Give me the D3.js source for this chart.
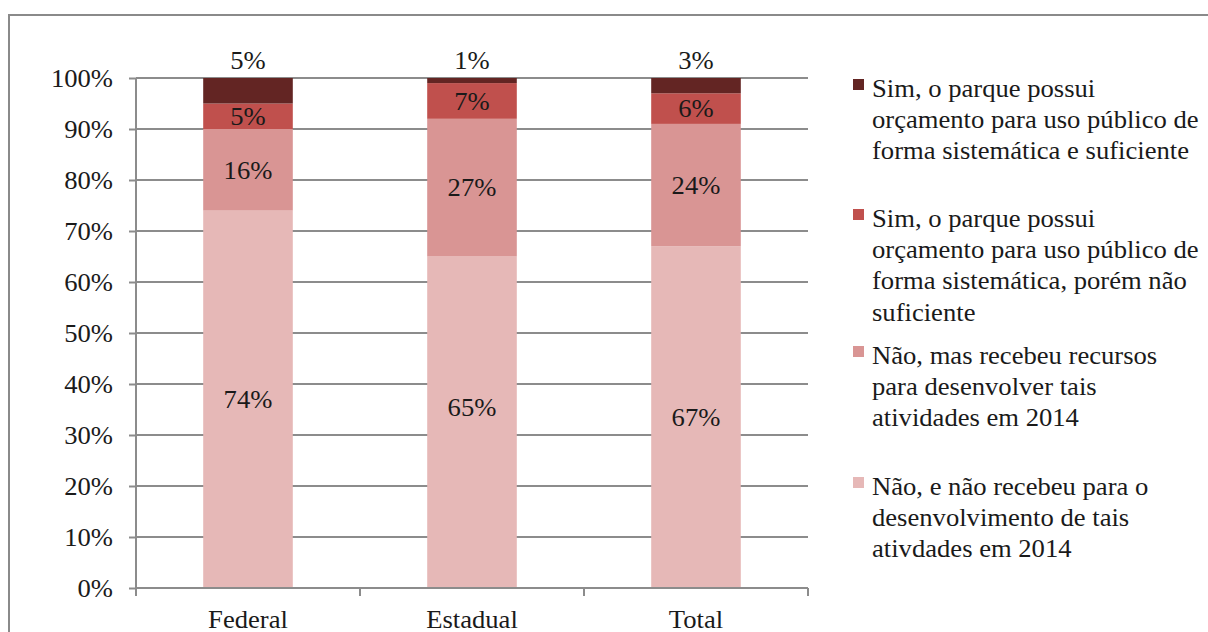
<!DOCTYPE html>
<html>
<head>
<meta charset="utf-8">
<script src="https://cdn.jsdelivr.net/npm/d3@7"></script>
<style>
  body { margin: 0; background: #fff; }
  svg { display: block; }
  text { font-family: "Liberation Serif", "Times New Roman", serif; fill: #1a1a1a; }
</style>
</head>
<body>
<svg width="1208" height="632"></svg>
<script>
// categories and series (percent)
var categories = ["Federal", "Estadual", "Total"];
var seriesKeys = ["naoNaoRecebeu", "naoRecebeu", "simNaoSuficiente", "simSuficiente"];
var naoNaoRecebeu = [74, 65, 67];
var naoRecebeu = [16, 27, 24];
var simNaoSuficiente = [5, 7, 6];
var simSuficiente = [5, 1, 3];
var yTicks = [0, 10, 20, 30, 40, 50, 60, 70, 80, 90, 100];

var seriesColors = ["#e6b8b7", "#d99594", "#c0504d", "#632523"];

// legend, top to bottom (reverse of stack order)
var legendLabels = [
    ["Sim, o parque possui", "orçamento para uso público de", "forma sistemática e suficiente"],
    ["Sim, o parque possui", "orçamento para uso público de", "forma sistemática, porém não", "suficiente"],
    ["Não, mas recebeu recursos", "para desenvolver tais", "atividades em 2014"],
    ["Não, e não recebeu para o", "desenvolvimento de tais", "ativdades em 2014"]
];
var legendColors = ["#632523", "#c0504d", "#d99594", "#e6b8b7"];

var FS = "25px";

var svg = d3.select("svg");

// outer chart frame (runs off the right and bottom of the picture)
svg.append("path")
    .attr("d", "M9,640 L9,15 L1220,15")
    .attr("fill", "none")
    .attr("stroke", "#8a8a8a")
    .attr("stroke-width", 2);

var plotLeft = 136, plotRight = 808, plotTop = 78, plotBottom = 588;

var x = d3.scaleBand().domain(categories).range([plotLeft, plotRight]).padding(0);
var y = d3.scaleLinear().domain([0, 100]).range([plotBottom, plotTop]);

// table for the stack
var rows = categories.map(function (c, i) {
    return {
        cat: c,
        naoNaoRecebeu: naoNaoRecebeu[i],
        naoRecebeu: naoRecebeu[i],
        simNaoSuficiente: simNaoSuficiente[i],
        simSuficiente: simSuficiente[i]
    };
});
var stacked = d3.stack().keys(seriesKeys)(rows);

// gridlines
svg.append("g")
    .selectAll("line")
    .data(yTicks.filter(function (d) { return d > 0; }))
    .enter().append("line")
    .attr("x1", plotLeft).attr("x2", plotRight)
    .attr("y1", function (d) { return y(d); })
    .attr("y2", function (d) { return y(d); })
    .attr("stroke", "#8c8c8c")
    .attr("stroke-width", 2);

// bars
var barW = x.bandwidth() * 0.4;
var layer = svg.append("g").selectAll("g")
    .data(stacked)
    .enter().append("g")
    .attr("fill", function (d, i) { return seriesColors[i]; });

layer.selectAll("rect")
    .data(function (d) { return d; })
    .enter().append("rect")
    .attr("x", function (d) { return x(d.data.cat) + (x.bandwidth() - barW) / 2; })
    .attr("width", barW)
    .attr("y", function (d) { return y(d[1]); })
    .attr("height", function (d) { return y(d[0]) - y(d[1]); });

// data labels (the Estadual 65% label sits a bit higher in the original)
stacked.forEach(function (s, si) {
    svg.append("g").selectAll("text")
        .data(s)
        .enter().append("text")
        .attr("x", function (d) { return x(d.data.cat) + x.bandwidth() / 2; })
        .attr("y", function (d) {
            if (si === seriesKeys.length - 1) return y(100) - 18;
            var mid = (y(d[0]) + y(d[1])) / 2;
            if (si === 0 && d.data.cat === "Estadual") mid -= 15;
            return mid;
        })
        .attr("dy", "0.35em")
        .attr("text-anchor", "middle")
        .style("font-size", FS)
        .text(function (d) { return (d[1] - d[0]) + "%"; });
});

// y axis
var yAxis = svg.append("g")
    .attr("transform", "translate(" + plotLeft + ",0)")
    .call(d3.axisLeft(y).tickValues(yTicks).tickSize(7).tickPadding(16)
        .tickFormat(function (d) { return d + "%"; }));
yAxis.select(".domain").attr("stroke", "#8c8c8c").attr("stroke-width", 2)
    .attr("d", "M0," + (plotBottom + 8) + "V" + plotTop);
yAxis.selectAll(".tick line").attr("stroke", "#8c8c8c").attr("stroke-width", 2);
yAxis.selectAll(".tick text").style("font-size", FS).attr("fill", "#1a1a1a")
    .style("font-family", "Liberation Serif");

// x axis
var xAxis = svg.append("g")
    .attr("transform", "translate(0," + plotBottom + ")")
    .call(d3.axisBottom(x).tickSize(0).tickPadding(22));
xAxis.select(".domain").attr("stroke", "#8c8c8c").attr("stroke-width", 2)
    .attr("d", "M" + plotLeft + ",0H" + plotRight);
xAxis.selectAll(".tick text").style("font-size", FS).attr("fill", "#1a1a1a")
    .style("font-family", "Liberation Serif");
svg.append("g").selectAll("line")
    .data(categories.slice(1).map(function (c) { return x(c); }).concat([plotRight]))
    .enter().append("line")
    .attr("x1", function (d) { return d; }).attr("x2", function (d) { return d; })
    .attr("y1", plotBottom).attr("y2", plotBottom + 8)
    .attr("stroke", "#8c8c8c").attr("stroke-width", 2);

// legend
var legendTops = [88, 218, 355, 486];
var lineH = 31.3;
var legend = svg.append("g").attr("class", "legend");
legendLabels.forEach(function (lines, i) {
    var g = legend.append("g").attr("transform", "translate(853," + legendTops[i] + ")");
    g.append("rect")
        .attr("x", 0).attr("y", -9)
        .attr("width", 11).attr("height", 11)
        .attr("fill", legendColors[i]);
    g.selectAll("text")
        .data(lines)
        .enter().append("text")
        .attr("x", 19)
        .attr("y", function (d, j) { return j * lineH; })
        .attr("dy", "0.35em")
        .style("font-size", FS)
        .text(function (d) { return d; });
});

// the original type is a little wider than Times, stretch it sideways
svg.selectAll("text").each(function () {
    var tx = +this.getAttribute("x") || 0;
    this.setAttribute("transform", "translate(" + tx + ",0) scale(1.065,1) translate(" + (-tx) + ",0)");
});
</script>
</body>
</html>
